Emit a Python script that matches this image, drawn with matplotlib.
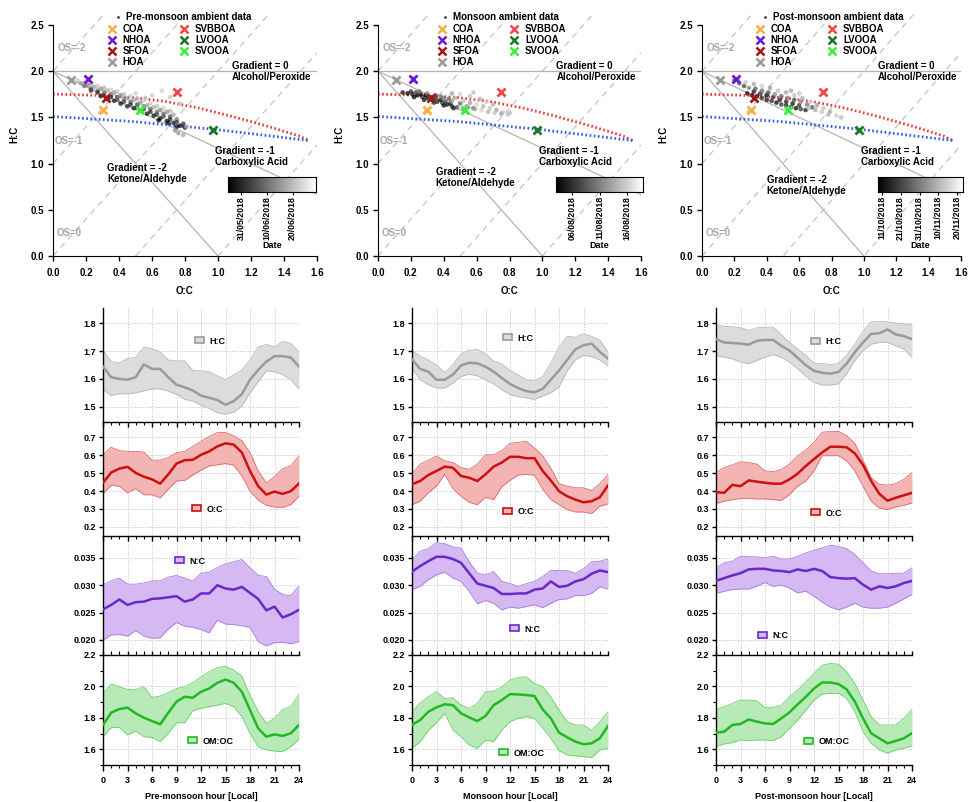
import numpy as np
import matplotlib
matplotlib.use("Agg")
import matplotlib.pyplot as plt
import matplotlib.dates as mdates
from matplotlib.lines import Line2D
from matplotlib.patches import Patch
from matplotlib.ticker import MultipleLocator, FormatStrFormatter
import datetime as dt

# ---------------------------------------------------------------- data
hours = np.arange(25)

# Van Krevelen reference factors (O:C, H:C)
factor_names = ["COA", "NHOA", "SFOA", "HOA", "SVBBOA", "LVOOA", "SVOOA"]
factor_oc = [0.30, 0.21, 0.32, 0.11, 0.75, 0.97, 0.53]
factor_hc = [1.58, 1.92, 1.71, 1.91, 1.78, 1.36, 1.58]
factor_colors = ["#f5b041", "#6a1bd0", "#a01818", "#9a9a9a", "#f04848", "#187a28", "#3aee3a"]

# triangle boundaries (O:C, H:C)
upper_edge_oc = [0.0, 0.28, 0.48, 0.68, 0.885, 1.087, 1.29, 1.49, 1.55]
upper_edge_hc = [1.752, 1.738, 1.716, 1.673, 1.600, 1.510, 1.410, 1.300, 1.250]
lower_edge_oc = [0.0, 0.48, 0.966, 1.55]
lower_edge_hc = [1.51, 1.456, 1.373, 1.25]

# ambient data clouds: O:C, H:C, day after start of season
pre_oc = [0.15, 0.19, 0.23, 0.27, 0.31, 0.35, 0.39, 0.43, 0.47, 0.51, 0.55, 0.59, 0.63, 0.67, 0.71,
          0.17, 0.21, 0.25, 0.29, 0.33, 0.37, 0.41, 0.45, 0.49, 0.53, 0.57, 0.61, 0.65, 0.69, 0.73,
          0.19, 0.23, 0.27, 0.31, 0.35, 0.39, 0.43, 0.47, 0.51, 0.55, 0.59, 0.63, 0.67, 0.71, 0.75,
          0.23, 0.27, 0.31, 0.35, 0.39, 0.43, 0.47, 0.51, 0.55, 0.59, 0.63, 0.67, 0.71, 0.75, 0.79,
          0.29, 0.33, 0.37, 0.41, 0.45, 0.49, 0.53, 0.57, 0.61, 0.65, 0.69, 0.73, 0.77, 0.80, 0.64, 0.70, 0.75,
          0.60, 0.66, 0.71, 0.56, 0.76, 0.79, 0.74, 0.81, 0.50, 0.77]
pre_hc = [1.90, 1.88, 1.86, 1.84, 1.82, 1.80, 1.78, 1.75, 1.73, 1.70, 1.68, 1.65, 1.62, 1.60, 1.57,
          1.87, 1.85, 1.83, 1.81, 1.79, 1.77, 1.74, 1.71, 1.69, 1.66, 1.63, 1.61, 1.58, 1.56, 1.53,
          1.84, 1.81, 1.79, 1.77, 1.75, 1.72, 1.70, 1.67, 1.64, 1.62, 1.59, 1.56, 1.54, 1.51, 1.48,
          1.79, 1.77, 1.74, 1.72, 1.69, 1.67, 1.64, 1.61, 1.59, 1.56, 1.53, 1.51, 1.48, 1.45, 1.43,
          1.73, 1.70, 1.68, 1.65, 1.62, 1.60, 1.57, 1.54, 1.52, 1.49, 1.46, 1.44, 1.41, 1.39, 1.47, 1.44, 1.40,
          1.74, 1.79, 1.72, 1.71, 1.33, 1.31, 1.36, 1.40, 1.76, 1.65]
pre_day = [26, 28, 25, 27, 24, 28, 26, 25, 27, 24, 28, 26, 25, 27, 24,
           20, 18, 22, 19, 23, 21, 18, 20, 22, 19, 21, 23, 18, 20, 22,
           14, 11, 16, 13, 15, 12, 17, 14, 11, 16, 13, 15, 14, 12, 17,
           7, 5, 9, 6, 10, 8, 5, 7, 9, 6, 8, 10, 5, 7, 6,
           2, 0, 3, 1, 4, 2, 0, 3, 1, 2, 0, 4, 1, 3, 0, 2, 1,
           27, 28, 26, 25, 20, 22, 18, 24, 27, 26]

mon_oc = [0.15, 0.18, 0.21, 0.24, 0.27, 0.30, 0.33, 0.36, 0.39, 0.42, 0.45,
          0.20, 0.23, 0.26, 0.29, 0.32, 0.35, 0.38, 0.41, 0.44,
          0.22, 0.28, 0.34, 0.40, 0.46,
          0.25, 0.30, 0.35, 0.40, 0.45, 0.50, 0.54, 0.58, 0.48, 0.52, 0.43, 0.38,
          0.47, 0.52, 0.56, 0.60, 0.64, 0.68, 0.72, 0.76, 0.80,
          0.55, 0.59, 0.63, 0.67, 0.71, 0.75, 0.79,
          0.50, 0.56, 0.62, 0.45, 0.66, 0.58, 0.70]
mon_hc = [1.77, 1.76, 1.75, 1.74, 1.72, 1.71, 1.69, 1.67, 1.66, 1.64, 1.62,
          1.78, 1.77, 1.75, 1.74, 1.72, 1.71, 1.69, 1.67, 1.65,
          1.72, 1.69, 1.66, 1.63, 1.60,
          1.78, 1.76, 1.74, 1.71, 1.68, 1.65, 1.62, 1.60, 1.61, 1.59, 1.70, 1.73,
          1.71, 1.68, 1.66, 1.64, 1.62, 1.60, 1.58, 1.56, 1.55,
          1.61, 1.59, 1.58, 1.56, 1.55, 1.54, 1.53,
          1.75, 1.73, 1.70, 1.76, 1.67, 1.77, 1.64]
mon_day = [1, 0, 2, 0, 3, 1, 0, 2, 4, 1, 3,
           2, 4, 1, 0, 2, 3, 1, 4, 2,
           0, 1, 2, 0, 1,
           6, 8, 5, 7, 9, 6, 8, 7, 5, 9, 6, 8,
           11, 12, 10, 13, 11, 12, 10, 13, 11,
           12, 10, 13, 11, 12, 10, 12,
           13, 12, 11, 10, 13, 12, 11]

post_oc = [0.28, 0.31, 0.34, 0.37, 0.40, 0.43, 0.46, 0.49, 0.52, 0.55, 0.58, 0.61, 0.64,
           0.32, 0.36, 0.40, 0.44, 0.48, 0.52, 0.56, 0.60,
           0.20, 0.23, 0.26, 0.29, 0.33, 0.37, 0.41, 0.45, 0.49, 0.53, 0.57, 0.61, 0.65, 0.68,
           0.22, 0.27, 0.32, 0.37, 0.42, 0.47, 0.52, 0.57, 0.62, 0.67, 0.71, 0.75, 0.79, 0.83, 0.86,
           0.70, 0.74, 0.78, 0.66, 0.55, 0.60]
post_hc = [1.76, 1.74, 1.73, 1.71, 1.69, 1.68, 1.66, 1.64, 1.63, 1.61, 1.60, 1.59, 1.58,
           1.78, 1.76, 1.74, 1.72, 1.69, 1.67, 1.65, 1.63,
           1.90, 1.87, 1.84, 1.82, 1.81, 1.79, 1.77, 1.75, 1.73, 1.71, 1.69, 1.67, 1.64, 1.61,
           1.91, 1.88, 1.86, 1.84, 1.82, 1.79, 1.77, 1.74, 1.71, 1.67, 1.63, 1.60, 1.56, 1.52, 1.50,
           1.58, 1.56, 1.53, 1.60, 1.79, 1.76]
post_day = [2, 5, 0, 8, 3, 6, 1, 9, 4, 7, 2, 10, 5,
            3, 7, 1, 9, 4, 6, 2, 8,
            14, 18, 12, 22, 16, 20, 13, 24, 17, 21, 15, 23, 19, 14,
            28, 34, 30, 36, 27, 33, 29, 35, 31, 37, 28, 34, 30, 36, 32,
            29, 35, 31, 33, 30, 34]

season_names = ["Pre-monsoon", "Monsoon", "Post-monsoon"]
season_start = [dt.date(2018, 5, 26), dt.date(2018, 8, 3), dt.date(2018, 10, 9)]
season_end = [dt.date(2018, 6, 29), dt.date(2018, 8, 19), dt.date(2018, 11, 23)]
date_ticks = [
    [dt.date(2018, 5, 31), dt.date(2018, 6, 10), dt.date(2018, 6, 20)],
    [dt.date(2018, 8, 6), dt.date(2018, 8, 11), dt.date(2018, 8, 16)],
    [dt.date(2018, 10, 11), dt.date(2018, 10, 21), dt.date(2018, 10, 31), dt.date(2018, 11, 10), dt.date(2018, 11, 20)],
]

# diurnal cycles: mean, upper and lower bounds
pre_hc_mean = [1.644, 1.606, 1.600, 1.597, 1.606, 1.652, 1.636, 1.636, 1.606, 1.579, 1.570, 1.558, 1.540, 1.532, 1.524, 1.507, 1.520, 1.545, 1.597, 1.632, 1.662, 1.682, 1.682, 1.677, 1.644]
pre_hc_hi = [1.703, 1.662, 1.658, 1.674, 1.677, 1.715, 1.709, 1.697, 1.668, 1.665, 1.665, 1.630, 1.629, 1.626, 1.611, 1.597, 1.615, 1.632, 1.668, 1.715, 1.724, 1.715, 1.735, 1.727, 1.697]
pre_hc_lo = [1.561, 1.540, 1.547, 1.546, 1.550, 1.557, 1.564, 1.564, 1.556, 1.544, 1.526, 1.520, 1.505, 1.493, 1.479, 1.472, 1.481, 1.502, 1.550, 1.590, 1.629, 1.626, 1.615, 1.597, 1.564]
pre_oc_mean = [0.446, 0.503, 0.525, 0.535, 0.501, 0.480, 0.465, 0.441, 0.493, 0.553, 0.572, 0.574, 0.602, 0.621, 0.649, 0.666, 0.659, 0.615, 0.512, 0.427, 0.380, 0.397, 0.384, 0.399, 0.442]
pre_oc_hi = [0.602, 0.644, 0.625, 0.621, 0.621, 0.617, 0.572, 0.572, 0.587, 0.614, 0.621, 0.649, 0.677, 0.704, 0.726, 0.726, 0.709, 0.681, 0.615, 0.512, 0.446, 0.480, 0.525, 0.540, 0.597]
pre_oc_lo = [0.384, 0.431, 0.427, 0.390, 0.413, 0.379, 0.379, 0.362, 0.410, 0.456, 0.459, 0.489, 0.516, 0.540, 0.546, 0.553, 0.544, 0.484, 0.399, 0.349, 0.320, 0.311, 0.309, 0.324, 0.371]
pre_nc_mean = [0.0256, 0.0264, 0.0274, 0.0264, 0.0269, 0.0270, 0.0275, 0.0276, 0.0278, 0.0280, 0.0270, 0.0274, 0.0285, 0.0285, 0.0300, 0.0294, 0.0292, 0.0297, 0.0286, 0.0275, 0.0254, 0.0261, 0.0241, 0.0247, 0.0255]
pre_nc_hi = [0.0301, 0.0308, 0.0313, 0.0302, 0.0302, 0.0304, 0.0308, 0.0308, 0.0315, 0.0318, 0.0313, 0.0308, 0.0322, 0.0324, 0.0332, 0.0339, 0.0343, 0.0347, 0.0332, 0.0318, 0.0316, 0.0293, 0.0283, 0.0281, 0.0299]
pre_nc_lo = [0.0199, 0.0209, 0.0210, 0.0207, 0.0217, 0.0207, 0.0203, 0.0204, 0.0220, 0.0232, 0.0225, 0.0223, 0.0219, 0.0213, 0.0236, 0.0229, 0.0228, 0.0226, 0.0223, 0.0197, 0.0189, 0.0195, 0.0196, 0.0193, 0.0197]
pre_om_mean = [1.755, 1.833, 1.856, 1.865, 1.829, 1.801, 1.780, 1.759, 1.833, 1.903, 1.934, 1.928, 1.966, 1.987, 2.023, 2.044, 2.023, 1.966, 1.850, 1.733, 1.680, 1.695, 1.685, 1.702, 1.755]
pre_om_hi = [1.956, 2.015, 1.998, 1.981, 1.981, 1.998, 1.930, 1.939, 1.960, 1.987, 1.998, 2.023, 2.061, 2.093, 2.121, 2.129, 2.104, 2.066, 1.945, 1.840, 1.765, 1.797, 1.854, 1.871, 1.951]
pre_om_lo = [1.680, 1.737, 1.740, 1.691, 1.716, 1.680, 1.676, 1.649, 1.702, 1.769, 1.769, 1.846, 1.860, 1.871, 1.881, 1.892, 1.871, 1.808, 1.702, 1.617, 1.596, 1.589, 1.585, 1.617, 1.664]

mon_hc_mean = [1.670, 1.636, 1.626, 1.597, 1.597, 1.615, 1.648, 1.658, 1.656, 1.644, 1.626, 1.603, 1.582, 1.567, 1.556, 1.552, 1.564, 1.597, 1.630, 1.668, 1.706, 1.721, 1.727, 1.697, 1.673]
mon_hc_hi = [1.703, 1.682, 1.668, 1.650, 1.623, 1.650, 1.691, 1.703, 1.706, 1.691, 1.664, 1.654, 1.630, 1.615, 1.597, 1.593, 1.609, 1.656, 1.715, 1.753, 1.750, 1.762, 1.753, 1.739, 1.697]
mon_hc_lo = [1.638, 1.597, 1.579, 1.567, 1.567, 1.585, 1.609, 1.617, 1.611, 1.597, 1.582, 1.561, 1.544, 1.536, 1.532, 1.526, 1.538, 1.550, 1.571, 1.629, 1.668, 1.685, 1.680, 1.668, 1.647]
mon_oc_mean = [0.437, 0.456, 0.489, 0.512, 0.536, 0.530, 0.484, 0.474, 0.456, 0.493, 0.536, 0.559, 0.591, 0.591, 0.583, 0.583, 0.512, 0.459, 0.399, 0.371, 0.352, 0.337, 0.343, 0.365, 0.431]
mon_oc_hi = [0.497, 0.550, 0.572, 0.595, 0.568, 0.559, 0.531, 0.521, 0.550, 0.602, 0.602, 0.625, 0.666, 0.672, 0.677, 0.640, 0.597, 0.527, 0.441, 0.427, 0.418, 0.418, 0.403, 0.441, 0.493]
mon_oc_lo = [0.324, 0.343, 0.390, 0.427, 0.493, 0.414, 0.371, 0.337, 0.324, 0.365, 0.352, 0.424, 0.459, 0.489, 0.493, 0.488, 0.409, 0.352, 0.324, 0.296, 0.283, 0.283, 0.274, 0.315, 0.328]
mon_nc_mean = [0.0325, 0.0335, 0.0344, 0.0352, 0.0352, 0.0348, 0.0341, 0.0322, 0.0303, 0.0299, 0.0295, 0.0284, 0.0284, 0.0285, 0.0285, 0.0292, 0.0294, 0.0307, 0.0297, 0.0299, 0.0307, 0.0311, 0.0321, 0.0327, 0.0324]
mon_nc_hi = [0.0347, 0.0362, 0.0367, 0.0378, 0.0376, 0.0370, 0.0368, 0.0343, 0.0322, 0.0319, 0.0325, 0.0307, 0.0303, 0.0298, 0.0303, 0.0307, 0.0316, 0.0327, 0.0327, 0.0327, 0.0322, 0.0330, 0.0343, 0.0344, 0.0348]
mon_nc_lo = [0.0292, 0.0298, 0.0310, 0.0319, 0.0324, 0.0313, 0.0307, 0.0289, 0.0266, 0.0272, 0.0267, 0.0255, 0.0260, 0.0258, 0.0261, 0.0264, 0.0259, 0.0267, 0.0274, 0.0275, 0.0281, 0.0281, 0.0285, 0.0297, 0.0293]
mon_om_mean = [1.755, 1.786, 1.839, 1.867, 1.886, 1.881, 1.829, 1.803, 1.780, 1.812, 1.881, 1.913, 1.951, 1.949, 1.945, 1.939, 1.854, 1.797, 1.706, 1.676, 1.649, 1.632, 1.638, 1.670, 1.748]
mon_om_hi = [1.839, 1.896, 1.934, 1.966, 1.924, 1.928, 1.881, 1.860, 1.892, 1.966, 1.970, 1.998, 2.040, 2.057, 2.061, 2.019, 1.998, 1.934, 1.850, 1.776, 1.755, 1.755, 1.719, 1.776, 1.839]
mon_om_lo = [1.606, 1.649, 1.719, 1.769, 1.829, 1.723, 1.680, 1.628, 1.606, 1.659, 1.649, 1.723, 1.776, 1.797, 1.808, 1.797, 1.737, 1.670, 1.592, 1.564, 1.558, 1.553, 1.547, 1.596, 1.606]

post_hc_mean = [1.743, 1.731, 1.729, 1.727, 1.723, 1.737, 1.740, 1.740, 1.719, 1.702, 1.676, 1.649, 1.629, 1.622, 1.619, 1.625, 1.655, 1.696, 1.731, 1.762, 1.764, 1.778, 1.760, 1.754, 1.743]
post_hc_hi = [1.795, 1.789, 1.787, 1.784, 1.775, 1.784, 1.786, 1.786, 1.760, 1.731, 1.707, 1.684, 1.657, 1.655, 1.652, 1.655, 1.684, 1.725, 1.772, 1.805, 1.807, 1.805, 1.801, 1.798, 1.795]
post_hc_lo = [1.684, 1.678, 1.672, 1.660, 1.655, 1.666, 1.678, 1.687, 1.678, 1.660, 1.637, 1.610, 1.587, 1.578, 1.578, 1.582, 1.619, 1.666, 1.702, 1.725, 1.731, 1.731, 1.719, 1.707, 1.678]
post_oc_mean = [0.394, 0.390, 0.434, 0.427, 0.459, 0.452, 0.446, 0.441, 0.441, 0.465, 0.497, 0.540, 0.578, 0.615, 0.647, 0.647, 0.644, 0.610, 0.546, 0.456, 0.384, 0.346, 0.362, 0.376, 0.390]
post_oc_hi = [0.503, 0.531, 0.546, 0.563, 0.559, 0.550, 0.512, 0.508, 0.521, 0.550, 0.597, 0.629, 0.672, 0.728, 0.732, 0.732, 0.709, 0.666, 0.572, 0.474, 0.437, 0.433, 0.441, 0.465, 0.503]
post_oc_lo = [0.330, 0.343, 0.352, 0.358, 0.358, 0.356, 0.356, 0.352, 0.347, 0.380, 0.427, 0.456, 0.512, 0.597, 0.597, 0.597, 0.568, 0.512, 0.427, 0.343, 0.305, 0.296, 0.311, 0.320, 0.333]
post_nc_mean = [0.0308, 0.0313, 0.0318, 0.0322, 0.0329, 0.0330, 0.0330, 0.0327, 0.0326, 0.0324, 0.0329, 0.0326, 0.0330, 0.0326, 0.0315, 0.0313, 0.0312, 0.0313, 0.0301, 0.0292, 0.0298, 0.0295, 0.0298, 0.0304, 0.0308]
post_nc_hi = [0.0332, 0.0341, 0.0344, 0.0353, 0.0352, 0.0352, 0.0350, 0.0353, 0.0348, 0.0348, 0.0353, 0.0359, 0.0364, 0.0368, 0.0373, 0.0371, 0.0367, 0.0356, 0.0341, 0.0326, 0.0321, 0.0321, 0.0322, 0.0322, 0.0332]
post_nc_lo = [0.0285, 0.0289, 0.0292, 0.0293, 0.0293, 0.0298, 0.0305, 0.0298, 0.0300, 0.0295, 0.0286, 0.0289, 0.0280, 0.0269, 0.0260, 0.0255, 0.0260, 0.0267, 0.0260, 0.0258, 0.0258, 0.0260, 0.0267, 0.0275, 0.0283]
post_om_mean = [1.706, 1.712, 1.755, 1.761, 1.790, 1.776, 1.765, 1.761, 1.797, 1.835, 1.886, 1.934, 1.987, 2.025, 2.025, 2.015, 1.981, 1.903, 1.797, 1.702, 1.670, 1.638, 1.653, 1.670, 1.702]
post_om_hi = [1.854, 1.871, 1.892, 1.913, 1.913, 1.909, 1.865, 1.867, 1.881, 1.934, 1.977, 2.030, 2.083, 2.135, 2.146, 2.142, 2.093, 2.019, 1.913, 1.808, 1.755, 1.755, 1.755, 1.797, 1.854]
post_om_lo = [1.617, 1.634, 1.642, 1.659, 1.655, 1.659, 1.659, 1.655, 1.680, 1.733, 1.786, 1.850, 1.913, 1.951, 1.956, 1.956, 1.924, 1.839, 1.712, 1.638, 1.596, 1.575, 1.596, 1.606, 1.621]

ratio_labels = ["H:C", "O:C", "N:C", "OM:OC"]

# ---------------------------------------------------------------- style
plt.rcParams["font.family"] = ["Liberation Sans", "DejaVu Sans"]
plt.rcParams["font.weight"] = "bold"
plt.rcParams["axes.labelweight"] = "bold"

W, H = 969, 802
fig = plt.figure(figsize=(W / 100, H / 100), dpi=100)


def rect(x0, y0, x1, y1):
    """Pixel box (top-left origin) to figure fraction rectangle."""
    return [x0 / W, 1 - y1 / H, (x1 - x0) / W, (y1 - y0) / H]


def fpt(px, py):
    return (px / W, 1 - py / H)


# ---------------------------------------------------------------- Van Krevelen panels
vk_left = [53, 378, 702]
vk_right = [317, 641, 961]
factor_leg_x = [112, 442, 760]   # marker centre of the first legend column
ambient_leg_x = [118, 445, 765]
cbar_box = [(228, 177, 316, 192), (556, 177, 643, 192), (878, 177, 963, 192)]
grad2_xy = [(0.33, 0.89), (0.35, 0.85), (0.40, 0.76)]
clouds = [(pre_oc, pre_hc, pre_day), (mon_oc, mon_hc, mon_day), (post_oc, post_hc, post_day)]
line_grey = "#b4b4b4"
FS_TXT = 7

for i in range(3):
    ax = fig.add_axes(rect(vk_left[i], 13, vk_right[i], 256))
    ax.set_xlim(0, 1.6)
    ax.set_ylim(0, 2.63)
    ax.spines["top"].set_visible(False)
    ax.spines["right"].set_visible(False)
    ax.spines["left"].set_bounds(0, 2.5)
    ax.set_xticks(np.arange(0, 1.61, 0.2))
    ax.set_yticks(np.arange(0, 2.51, 0.5))
    ax.xaxis.set_major_formatter(FormatStrFormatter("%.1f"))
    ax.yaxis.set_major_formatter(FormatStrFormatter("%.1f"))
    ax.tick_params(direction="out", length=3.5, width=1, labelsize=7, pad=3)
    ax.tick_params(axis="x", pad=5)
    ax.set_xlabel("O:C", fontsize=7, labelpad=6)
    ax.set_ylabel("H:C", fontsize=7, labelpad=8)

    # oxidation-state isolines H:C = 2 O:C - OS
    xs = np.array([0.0, 1.6])
    for os_ in [-2, -1, 0, 1, 2]:
        ax.plot(xs, 2 * xs - os_, color="#c4c4c4", lw=0.9, ls=(0, (5, 4)), zorder=1)
    # functionalisation slopes
    ax.plot([0, 1.6], [2, 2], color=line_grey, lw=0.9, zorder=1)
    ax.plot([0, 1.6], [2, 0.665], color=line_grey, lw=0.9, zorder=1)
    ax.plot([0, 1.0], [2, 0], color=line_grey, lw=0.9, zorder=1)

    ax.plot(upper_edge_oc, upper_edge_hc, color="#e83a3a", lw=2.0, ls=(0, (0.6, 0.9)), zorder=2)
    ax.plot(lower_edge_oc, lower_edge_hc, color="#3a5ae8", lw=2.0, ls=(0, (0.6, 0.9)), zorder=2)

    t0 = mdates.date2num(season_start[i])
    t1 = mdates.date2num(season_end[i])
    oc, hc, day = clouds[i]
    ax.scatter(oc, hc, c=t0 + np.array(day), cmap="gray", vmin=t0, vmax=t1,
               s=11, alpha=0.75, linewidths=0, zorder=3)

    for n, x, y, c in zip(factor_names, factor_oc, factor_hc, factor_colors):
        ax.plot(x, y, ls="none", marker="x", ms=6, mew=2, color=c, zorder=4)

    txt_c = "#a8a8a8"
    ax.text(0.03, 2.25, "OS=-2", color=txt_c, fontsize=FS_TXT, va="center")
    ax.text(0.01, 1.24, "OS=-1", color=txt_c, fontsize=FS_TXT, va="center")
    ax.text(0.02, 0.25, "OS=0", color=txt_c, fontsize=FS_TXT, va="center")
    ax.text(1.085, 2.0, "Gradient = 0\nAlcohol/Peroxide", fontsize=FS_TXT, va="center", linespacing=1.1)
    ax.text(0.98, 1.08, "Gradient = -1\nCarboxylic Acid", fontsize=FS_TXT, va="center", linespacing=1.1)
    ax.text(grad2_xy[i][0], grad2_xy[i][1], "Gradient = -2\nKetone/Aldehyde", fontsize=FS_TXT,
            va="center", linespacing=1.1)

    amb = Line2D([], [], ls="none", marker=".", ms=2, color="#444444")
    leg1 = ax.legend([amb], [f"{season_names[i]} ambient data"], loc="upper left",
                     bbox_to_anchor=fpt(ambient_leg_x[i] - 4.9, 12.5), bbox_transform=fig.transFigure,
                     frameon=False, fontsize=7, handlelength=1.0, handletextpad=0.3,
                     borderpad=0, borderaxespad=0)
    ax.add_artist(leg1)
    hs = [Line2D([], [], ls="none", marker="x", ms=5.5, mew=1.8, color=c) for c in factor_colors]
    ax.legend(hs, factor_names, loc="upper left", ncol=2,
              bbox_to_anchor=fpt(factor_leg_x[i] - 4.9, 24.5), bbox_transform=fig.transFigure,
              frameon=False, fontsize=7, handlelength=1.0, handletextpad=0.6,
              labelspacing=0.1, columnspacing=2.9, borderpad=0, borderaxespad=0)

    # date colour bar
    cax = fig.add_axes(rect(*cbar_box[i]))
    grad = np.linspace(0, 1, 256)[None, :]
    cax.imshow(grad, aspect="auto", cmap="gray", extent=[t0, t1, 0, 1])
    cax.set_xlim(t0, t1)
    cax.set_yticks([])
    ticks = [mdates.date2num(d) for d in date_ticks[i]]
    cax.set_xticks(ticks)
    cax.set_xticklabels([d.strftime("%d/%m/%Y") for d in date_ticks[i]], rotation=90, fontsize=6.3)
    cax.tick_params(axis="x", direction="out", length=2, width=0.8, pad=1)
    for s in cax.spines.values():
        s.set_linewidth(0.8)
    cax.set_xlabel("Date", fontsize=6.5, labelpad=1)

# ---------------------------------------------------------------- diurnal panels
col_left = [103, 412, 716]
col_right = [299, 608, 912]
row_box = [(308, 422), (422, 536), (536, 655), (655, 765)]
row_ylim = [(1.445, 1.855), (0.149, 0.785), (0.01725, 0.039), (1.5, 2.2)]
row_major = [0.1, 0.1, 0.005, 0.2]
row_minor = [None, None, None, 0.1]
row_fmt = ["%.1f", "%.1f", "%.3f", "%.1f"]
row_line = ["#9a9a9a", "#cc1010", "#6a28c8", "#22b822"]
row_fill = ["#dcdcdc", "#f3b4b4", "#d6b8f2", "#b8eab8"]
row_edge = ["#b8b8b8", "#e06a6a", "#a47ee0", "#6cd06c"]

series = [
    [(pre_hc_mean, pre_hc_hi, pre_hc_lo), (pre_oc_mean, pre_oc_hi, pre_oc_lo),
     (pre_nc_mean, pre_nc_hi, pre_nc_lo), (pre_om_mean, pre_om_hi, pre_om_lo)],
    [(mon_hc_mean, mon_hc_hi, mon_hc_lo), (mon_oc_mean, mon_oc_hi, mon_oc_lo),
     (mon_nc_mean, mon_nc_hi, mon_nc_lo), (mon_om_mean, mon_om_hi, mon_om_lo)],
    [(post_hc_mean, post_hc_hi, post_hc_lo), (post_oc_mean, post_oc_hi, post_oc_lo),
     (post_nc_mean, post_nc_hi, post_nc_lo), (post_om_mean, post_om_hi, post_om_lo)],
]
# legend handle position (left px, centre py) for each column/row
legend_px = [
    [(195, 341), (192, 509), (175, 561), (188, 741)],
    [(503, 338), (503, 512), (510, 629), (499, 753)],
    [(811, 342), (811, 513), (758, 636), (804, 742)],
]

for c in range(3):
    for r in range(4):
        top, bot = row_box[r]
        ax = fig.add_axes(rect(col_left[c], top, col_right[c], bot))
        mean, hi, lo = series[c][r]
        ax.fill_between(hours, lo, hi, color=row_fill[r], lw=0, zorder=1)
        ax.plot(hours, hi, color=row_edge[r], lw=0.6, zorder=2)
        ax.plot(hours, lo, color=row_edge[r], lw=0.6, zorder=2)
        ax.plot(hours, mean, color=row_line[r], lw=1.8, zorder=3)

        ax.set_xlim(0, 24)
        ax.set_ylim(*row_ylim[r])
        ax.xaxis.set_major_locator(MultipleLocator(3))
        ax.xaxis.set_minor_locator(MultipleLocator(1))
        ax.yaxis.set_major_locator(MultipleLocator(row_major[r]))
        if row_minor[r]:
            ax.yaxis.set_minor_locator(MultipleLocator(row_minor[r]))
        ax.yaxis.set_major_formatter(FormatStrFormatter(row_fmt[r]))
        ax.grid(True, which="major", color="#c8c8c8", lw=0.7, ls=(0, (1.2, 1.5)))
        ax.set_axisbelow(True)

        ax.spines["right"].set_visible(False)
        ax.spines["left"].set_linewidth(1.0)
        if r == 0:
            ax.spines["top"].set_visible(False)
        else:
            ax.spines["top"].set_linewidth(1.0)
        if r < 3:
            ax.spines["bottom"].set_visible(False)
            ax.tick_params(axis="x", which="both", bottom=False, labelbottom=False,
                           top=(r > 0), direction="in")
            ax.tick_params(axis="x", which="major", length=3.5, width=1)
            ax.tick_params(axis="x", which="minor", length=2.2, width=0.8)
        else:
            ax.spines["bottom"].set_linewidth(1.0)
            ax.tick_params(axis="x", which="both", top=True, direction="out")
            ax.tick_params(axis="x", which="major", length=4, width=1, labelsize=6.5, pad=4)
            ax.tick_params(axis="x", which="minor", length=2.5, width=0.8)
            for t in ax.xaxis.get_major_ticks() + ax.xaxis.get_minor_ticks():
                t.tick2line.set_markersize(3)
            ax.set_xlabel(f"{season_names[c]} hour [Local]", fontsize=6.5, labelpad=5)
        ax.tick_params(axis="y", which="major", direction="out", length=3, width=1, labelsize=6.5, pad=2)
        ax.tick_params(axis="y", which="minor", direction="out", length=2, width=0.8)

        lp = legend_px[c][r]
        patch = Patch(facecolor=row_fill[r], edgecolor=row_line[r], lw=1.2)
        ax.legend([patch], [ratio_labels[r]], loc="center left",
                  bbox_to_anchor=fpt(lp[0], lp[1]), bbox_transform=fig.transFigure,
                  frameon=False, fontsize=6.5, handlelength=1.0, handleheight=0.6,
                  handletextpad=0.6, borderpad=0, borderaxespad=0)

fig.savefig("out.png", dpi=100)
